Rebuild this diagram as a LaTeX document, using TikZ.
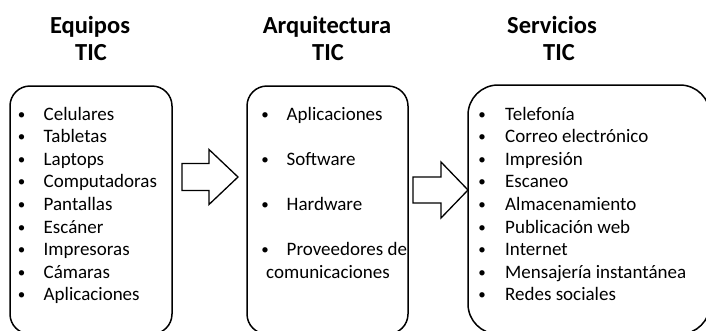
\documentclass[tikz,border=0pt]{standalone}
\usepackage{fontspec}
\setmainfont{Carlito}
\begin{document}
\begin{tikzpicture}[x=1pt,y=-1pt,
  titulo/.style={anchor=base,inner sep=0pt,font=\fontsize{24.5}{27}\selectfont\bfseries},
  item/.style={anchor=base west,inner sep=0pt,font=\fontsize{19}{22.6}\selectfont},
  punto/.style={anchor=base,inner sep=0pt,font=\fontsize{15}{22.6}\selectfont},
  caja/.style={line width=1.5pt,rounded corners=#1},
  flecha/.style={line width=1.3pt,line join=miter}]
  \clip (0,0) rectangle (706,330);
  \fill[white] (0,0) rectangle (706,330);

  % titulos
  \node[titulo] (equT1) at (90,33) {Equipos};
  \node[titulo] (equT2) at (91,60) {TIC};
  \node[titulo] (arqT1) at (327,33) {Arquitectura};
  \node[titulo] (arqT2) at (328,60) {TIC};
  \node[titulo] (serT1) at (552,33) {Servicios};
  \node[titulo] (serT2) at (559,60) {TIC};

  % cajas
  \draw[caja=20pt] (10,86) rectangle (172,334);
  \draw[caja=20pt] (247,86) rectangle (408,334);
  \draw[caja=30pt] (468,85) rectangle (710,334);

  % flechas
  \draw[flecha] (182,163.5) -- (209,163.5) -- (209,149.5) -- (238,177)
    -- (209,204.5) -- (209,190.5) -- (182,190.5) -- cycle;
  \draw[flecha] (413,177) -- (441,177) -- (441,162) -- (468,190)
    -- (441,218) -- (441,203) -- (413,203) -- cycle;

  % listas
  \foreach \t [count=\i] in {Celulares,Tabletas,Laptops,Computadoras,
      Pantallas,Escáner,Impresoras,Cámaras,Aplicaciones} {
    \node[punto] (equB\i) at (21.5,{96.4+22.6*\i}) {•};
    \node[item] (equ\i) at (43.5,{97.4+22.6*\i}) {\t};
  }
  \foreach \i/\t in {1/Aplicaciones,3/Software,5/Hardware,7/Proveedores de} {
    \node[punto] (arqB\i) at (265,{96.4+22.6*\i}) {•};
    \node[item] (arq\i) at (286.5,{97.4+22.6*\i}) {\t};
  }
  \node[item] (arq8) at (266,{97.4+22.6*8}) {comunicaciones};
  \foreach \t [count=\i] in {Telefonía,Correo electrónico,Impresión,Escaneo,
      Almacenamiento,Publicación web,Internet,Mensajería instantánea,
      Redes sociales} {
    \node[punto] (serB\i) at (482,{96.4+22.6*\i}) {•};
    \node[item] (ser\i) at (505,{97.4+22.6*\i}) {\t};
  }
\end{tikzpicture}
\end{document}
